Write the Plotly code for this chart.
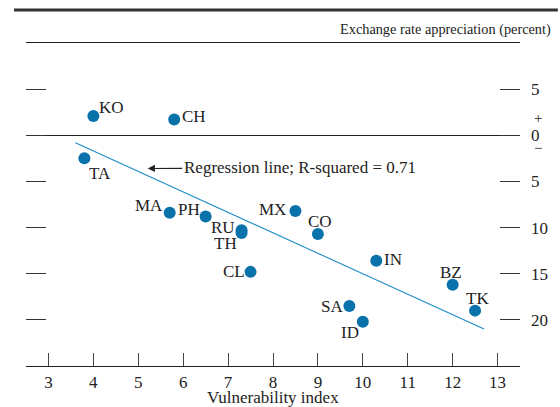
import plotly.graph_objects as go

# ---- data ----
codes = ["KO", "CH", "TA", "MA", "PH", "RU", "TH", "CL", "MX", "CO", "IN", "BZ", "TK", "SA", "ID"]
vuln = [4.0, 5.8, 3.8, 5.7, 6.5, 7.3, 7.3, 7.5, 8.5, 9.0, 10.3, 12.0, 12.5, 9.7, 10.0]
appr = [2.1, 1.7, -2.5, -8.4, -8.8, -10.3, -10.6, -14.8, -8.2, -10.7, -13.6, -16.2, -19.0, -18.5, -20.2]

reg_x = [3.6, 12.7]
reg_y = [-0.8, -21.0]

xtick_vals = [2.5, 3, 4, 5, 6, 7, 8, 9, 10, 11, 12, 13, 13.5]
xtick_text = ["", "3", "4", "5", "6", "7", "8", "9", "10", "11", "12", "13", ""]
ytick_vals = [5, 0, -5, -10, -15, -20]
ytick_text = ["5", "0", "5", "10", "15", "20"]

title_text = "Exchange rate appreciation (percent)"
xtitle_text = "Vulnerability index"
reg_text = "Regression line; R-squared = 0.71"

# label offsets in pixels (style): (dx, dy) with dy positive = downward
label_offsets = [(18.5, -8.4), (19.3, -2.7), (15.3, 15.0), (-20.7, -7.3), (-16.2, -7.3),
                 (-19.0, -3.0), (-16.0, 10.5), (-16.2, 0.0), (-22.5, -1.7), (2.2, -12.6),
                 (17.2, -1.3), (-2.0, -12.6), (2.8, -12.4), (-17.3, 0.6), (-13.0, 11.0)]

FONT = "Liberation Serif"
BLUE = "#0a72ab"
TXT = "#222"

fig = go.Figure()
fig.add_trace(go.Scatter(x=reg_x, y=reg_y, mode="lines", yaxis="y2",
                         line=dict(color="#1f8cc6", width=1.1), hoverinfo="skip",
                         showlegend=False))
fig.add_trace(go.Scatter(x=vuln, y=appr, mode="markers",
                         marker=dict(color=BLUE, size=12), showlegend=False))

for c, xv, yv, (dx, dy) in zip(codes, vuln, appr, label_offsets):
    fig.add_annotation(x=xv, y=yv, text=c, showarrow=False, xshift=dx, yshift=-dy,
                       xanchor="center", yanchor="middle",
                       font=dict(family=FONT, size=17, color=TXT))

W, H = 560, 407
L, R, T, B = 26, 38, 43, 41
pw, ph = W - L - R, H - T - B

def px_x(p):
    return (p - L) / pw

def px_y(p):
    return (H - B - p) / ph

fig.update_layout(
    width=W, height=H,
    margin=dict(l=L, r=R, t=T, b=B),
    paper_bgcolor="white", plot_bgcolor="white",
    font=dict(family=FONT, color=TXT),
    xaxis=dict(range=[2.5, 13.5], tickvals=xtick_vals, ticktext=xtick_text,
               ticks="inside", ticklen=13, tickwidth=1.2, tickcolor="#444",
               showline=True, linecolor="#222", linewidth=1.2, mirror=True,
               showgrid=False, zeroline=False,
               tickfont=dict(family=FONT, size=17, color=TXT)),
    yaxis=dict(range=[-25, 10], side="right", tickvals=ytick_vals, ticktext=ytick_text,
               ticks="inside", ticklen=20, tickwidth=1.2, tickcolor="#333",
               showline=False, showgrid=False, zeroline=True, zerolinecolor="#222",
               zerolinewidth=1.2, ticklabelstandoff=10,
               tickfont=dict(family=FONT, size=17, color=TXT)),
    yaxis2=dict(range=[-25, 10], side="left", overlaying="y", tickvals=ytick_vals,
                ticks="inside", ticklen=20, tickwidth=1.2, tickcolor="#333",
                showticklabels=False, showline=False, showgrid=False, zeroline=False),
)

fig.add_shape(type="line", xref="paper", yref="paper",
              x0=px_x(14), x1=px_x(560), y0=px_y(10), y1=px_y(10),
              line=dict(color="#333", width=3))

fig.add_annotation(xref="paper", yref="paper", x=px_x(555), y=px_y(30),
                   xanchor="right", yanchor="middle", showarrow=False,
                   text=title_text, font=dict(family=FONT, size=14.3, color=TXT))
fig.add_annotation(xref="paper", yref="paper", x=0.5, y=px_y(397),
                   xanchor="center", yanchor="middle", showarrow=False,
                   text=xtitle_text, font=dict(family=FONT, size=17, color=TXT))
fig.add_annotation(xref="paper", yref="y", x=px_x(540), y=0, yshift=17,
                   xanchor="center", yanchor="middle", showarrow=False,
                   text="+", font=dict(family=FONT, size=15, color=TXT))
fig.add_annotation(xref="paper", yref="y", x=px_x(540), y=0, yshift=-13,
                   xanchor="center", yanchor="middle", showarrow=False,
                   text="\u2212", font=dict(family=FONT, size=15, color=TXT))
fig.add_annotation(x=5.21, y=-3.6, text=reg_text, showarrow=True,
                   ax=152, ay=-1, arrowhead=2, arrowsize=1.2, arrowwidth=1.2,
                   arrowcolor=TXT,
                   font=dict(family=FONT, size=17, color=TXT))

fig.write_html("out.html", config={"displayModeBar": False},
               post_script="document.body.style.margin='0px';document.body.style.overflow='hidden';")
